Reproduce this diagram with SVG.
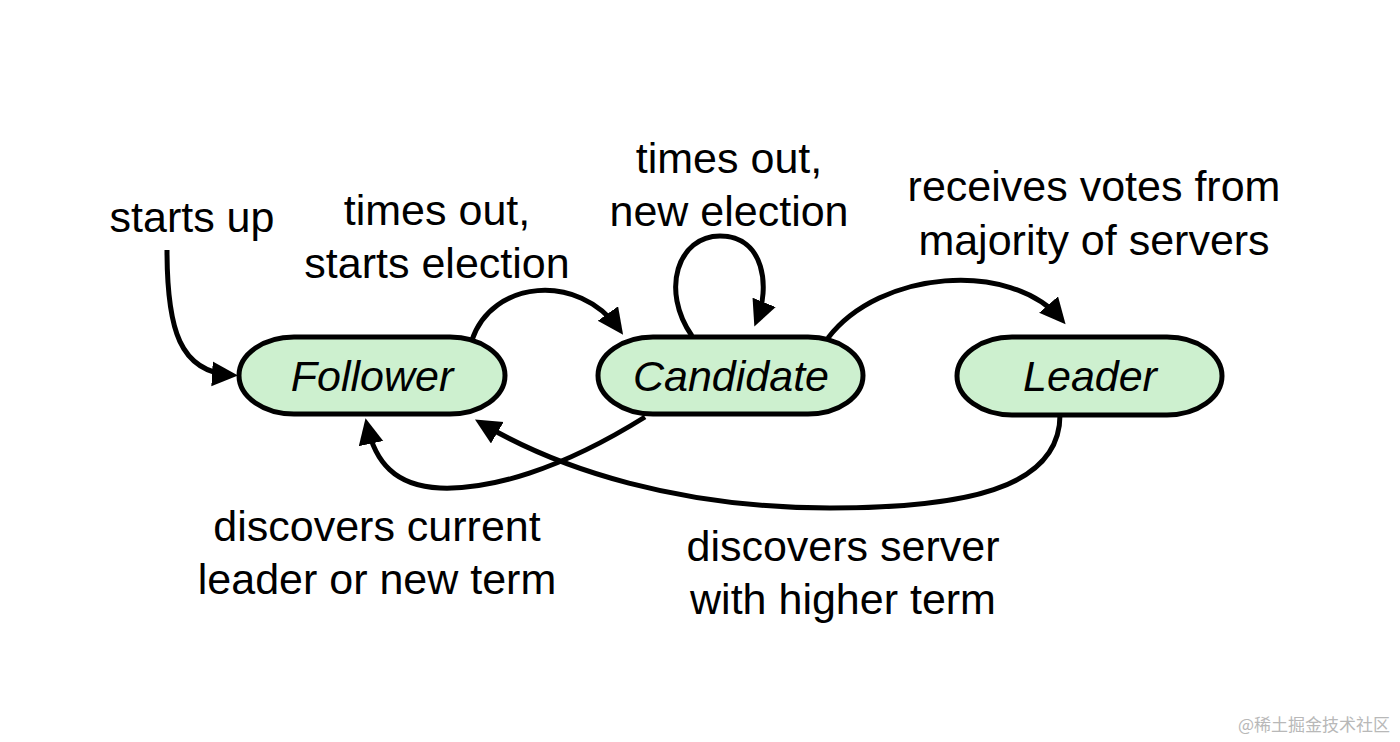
<svg xmlns="http://www.w3.org/2000/svg" width="1400" height="742" viewBox="0 0 1400 742">
<style>
.node{fill:#cdf0cf;stroke:#000;stroke-width:5}
.nt{font-family:"Liberation Sans",Arial,sans-serif;font-style:italic;font-size:43px;text-anchor:middle;fill:#000}
.lb{font-family:"Liberation Sans",Arial,sans-serif;font-size:43px;text-anchor:middle;fill:#000}
.cn{fill:none;stroke:#000;stroke-width:5;marker-end:url(#ah)}
.wm{font-family:"Noto Sans CJK SC","Liberation Sans",sans-serif;font-size:17px;fill:#b8b8b8}
</style>
<defs>
<marker id="ah" markerUnits="userSpaceOnUse" markerWidth="27" markerHeight="26" refX="19" refY="12.5" orient="auto">
<path d="M0,0 L26,12.5 L0,25 z" fill="#000"/>
</marker>
</defs>
<rect width="1400" height="742" fill="#fff"/>
<g id="connectors">
<path class="cn" d="M167,250 C167,330 180,372 231,375"/>
<path class="cn" d="M472,340 C492,280 578,272 619,329"/>
<path class="cn" d="M692,336 C660,290 678,236 720,236 C765,236 770,288 757,320"/>
<path class="cn" d="M828,338 C880,270 1010,260 1061,319"/>
<path class="cn" d="M645,417 C560,470 490,490 440,488 C395,486 375,462 367,425"/>
<path class="cn" d="M1060,415 C1060,490 960,508 830,508 C680,508 560,470 481,423"/>
</g>
<g id="follower">
<rect class="node" x="239" y="337" width="266" height="77" rx="55" ry="38.5"/>
<text class="nt" x="372" y="391">Follower</text>
</g>
<g id="candidate">
<rect class="node" x="598" y="337" width="265" height="77" rx="55" ry="38.5"/>
<text class="nt" x="731" y="391">Candidate</text>
</g>
<g id="leader">
<rect class="node" x="957" y="337" width="265" height="78" rx="55" ry="39"/>
<text class="nt" x="1090" y="391">Leader</text>
</g>
<g id="labels">
<text class="lb" x="192" y="232">starts up</text>
<text class="lb" x="437" y="225">times out,</text>
<text class="lb" x="437" y="278">starts election</text>
<text class="lb" x="729" y="173">times out,</text>
<text class="lb" x="729" y="226">new election</text>
<text class="lb" x="1094" y="201">receives votes from</text>
<text class="lb" x="1094" y="255">majority of servers</text>
<text class="lb" x="377" y="541">discovers current</text>
<text class="lb" x="377" y="594">leader or new term</text>
<text class="lb" x="843" y="561">discovers server</text>
<text class="lb" x="843" y="614">with higher term</text>
</g>
<text class="wm" x="1238" y="731">@稀土掘金技术社区</text>
</svg>
